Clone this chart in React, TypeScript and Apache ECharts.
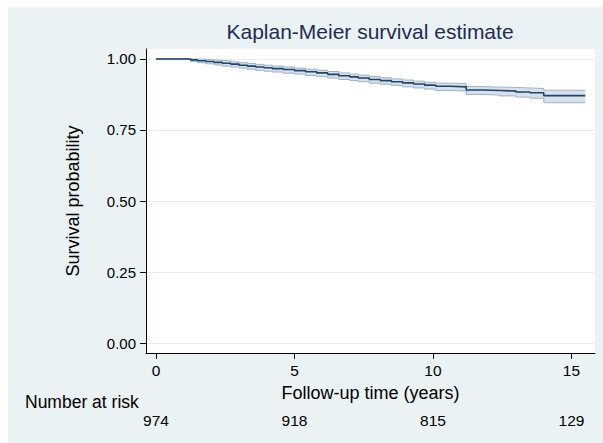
import React, { useEffect, useRef } from "react";
import * as echarts from "echarts";

// Kaplan-Meier estimate (years, survival)
const times = [0, 1.25, 1.5, 1.8, 2.1, 2.4, 2.7, 3.0, 3.3, 3.6, 3.9, 4.2, 4.6, 5.0, 5.4, 5.8, 6.2, 6.6, 7.0, 7.3, 7.7, 8.1, 8.5, 8.9, 9.3, 9.7, 10.1, 10.6, 11.2, 11.8, 12.4, 13.0, 13.5, 14.0, 15.5];
const survival = [1.0, 0.997, 0.994, 0.991, 0.988, 0.985, 0.982, 0.978, 0.975, 0.972, 0.969, 0.966, 0.963, 0.959, 0.955, 0.951, 0.946, 0.941, 0.937, 0.933, 0.928, 0.924, 0.92, 0.916, 0.912, 0.908, 0.904, 0.902, 0.891, 0.889, 0.887, 0.884, 0.881, 0.871, 0.871];
const upperCI = [1.0, 1.0, 0.999, 0.997, 0.995, 0.993, 0.99, 0.987, 0.984, 0.981, 0.978, 0.975, 0.972, 0.968, 0.964, 0.96, 0.956, 0.951, 0.947, 0.943, 0.938, 0.934, 0.93, 0.926, 0.922, 0.918, 0.915, 0.913, 0.903, 0.901, 0.9, 0.898, 0.896, 0.89, 0.89];
const lowerCI = [1.0, 0.991, 0.987, 0.983, 0.979, 0.975, 0.972, 0.968, 0.964, 0.96, 0.957, 0.954, 0.95, 0.947, 0.942, 0.938, 0.933, 0.928, 0.924, 0.92, 0.915, 0.911, 0.907, 0.902, 0.898, 0.894, 0.889, 0.887, 0.875, 0.873, 0.87, 0.866, 0.862, 0.846, 0.846];

const xTicks = [0, 5, 10, 15];
const yTicks = [0, 0.25, 0.5, 0.75, 1.0];
const riskTimes = [0, 5, 10, 15];
const riskCounts = [974, 918, 815, 129];

const FONT = "'Liberation Sans', Arial, Helvetica, sans-serif";

export default function App() {
  const ref = useRef<HTMLDivElement>(null);
  useEffect(() => {
    if (!ref.current) return;
    const chart = echarts.init(ref.current, undefined, { renderer: "svg" });
    const pts = (ys: number[]) => times.map((t, i) => [t, ys[i]]);
    const xMin = -0.36;
    const xMax = 15.85;
    chart.setOption({
      animation: false,
      backgroundColor: "#eaf2f3",
      textStyle: { fontFamily: FONT },
      grid: {
        left: 138,
        top: 42,
        right: 8,
        bottom: 90,
        show: true,
        backgroundColor: "#ffffff",
        borderWidth: 0,
      },
      graphic: [
        {
          type: "text",
          x: 362,
          y: 24,
          style: {
            text: "Kaplan-Meier survival estimate",
            fill: "#1e2d52",
            font: `21px ${FONT}`,
            textAlign: "center",
            textVerticalAlign: "middle",
          },
        },
        {
          type: "text",
          x: 17,
          y: 395,
          style: {
            text: "Number at risk",
            fill: "#000000",
            font: `17.5px ${FONT}`,
            textAlign: "left",
            textVerticalAlign: "middle",
          },
        },
      ],
      xAxis: [
        {
          type: "value",
          min: xMin,
          max: xMax,
          name: "Follow-up time (years)",
          nameLocation: "middle",
          nameGap: 31,
          nameTextStyle: { color: "#000", fontSize: 18, fontFamily: FONT },
          axisLine: { show: true, onZero: false, lineStyle: { color: "#000", width: 1 } },
          axisTick: { show: true, length: 6, customValues: xTicks, lineStyle: { color: "#000" } },
          axisLabel: {
            customValues: xTicks,
            color: "#000",
            fontSize: 15.5,
            margin: 9,
            fontFamily: FONT,
            formatter: (v: number) => String(v),
          },
          splitLine: { show: false },
        },
        {
          type: "value",
          gridIndex: 0,
          position: "bottom",
          offset: 50,
          min: xMin,
          max: xMax,
          axisLine: { show: false },
          axisTick: { show: false },
          splitLine: { show: false },
          axisLabel: {
            customValues: riskTimes,
            color: "#000",
            fontSize: 15.5,
            margin: 9,
            fontFamily: FONT,
            formatter: (v: number) => String(riskCounts[riskTimes.indexOf(v)]),
          },
        },
      ],
      yAxis: {
        type: "value",
        min: -0.0352,
        max: 1.0352,
        name: "Survival probability",
        nameLocation: "middle",
        nameGap: 64,
        nameTextStyle: { color: "#000", fontSize: 18, fontFamily: FONT },
        axisLine: { show: true, onZero: false, lineStyle: { color: "#000", width: 1 } },
        axisTick: { show: true, length: 6, customValues: yTicks, lineStyle: { color: "#000" } },
        axisLabel: {
          customValues: yTicks,
          color: "#000",
          fontSize: 15,
          margin: 10,
          fontFamily: FONT,
          formatter: (v: number) => v.toFixed(2),
        },
        splitLine: { show: true, lineStyle: { color: "#e6eeef", width: 1 } },
      },
      series: [
        {
          type: "custom",
          silent: true,
          data: [[0, 0]],
          renderItem: (_params: any, api: any) => {
            const poly: number[][] = [];
            const n = times.length;
            for (let i = 0; i < n; i++) {
              poly.push(api.coord([times[i], upperCI[i]]));
              if (i < n - 1) poly.push(api.coord([times[i + 1], upperCI[i]]));
            }
            for (let i = n - 1; i >= 0; i--) {
              if (i < n - 1) poly.push(api.coord([times[i + 1], lowerCI[i]]));
              poly.push(api.coord([times[i], lowerCI[i]]));
            }
            return {
              type: "polygon",
              shape: { points: poly },
              style: { fill: "#d9e0e9", stroke: "none" },
            };
          },
        },
        {
          type: "line",
          data: pts(upperCI),
          step: "end",
          symbol: "none",
          lineStyle: { color: "#9fb1c6", width: 1 },
          silent: true,
        },
        {
          type: "line",
          data: pts(lowerCI),
          step: "end",
          symbol: "none",
          lineStyle: { color: "#9fb1c6", width: 1 },
          silent: true,
        },
        {
          type: "line",
          data: pts(survival),
          step: "end",
          symbol: "none",
          lineStyle: { color: "#1a476f", width: 1.6 },
          silent: true,
        },
      ],
    });
    return () => chart.dispose();
  }, []);
  return (
    <div
      ref={ref}
      style={{ position: "absolute", left: 8, top: 7, width: 595, height: 436 }}
    />
  );
}
